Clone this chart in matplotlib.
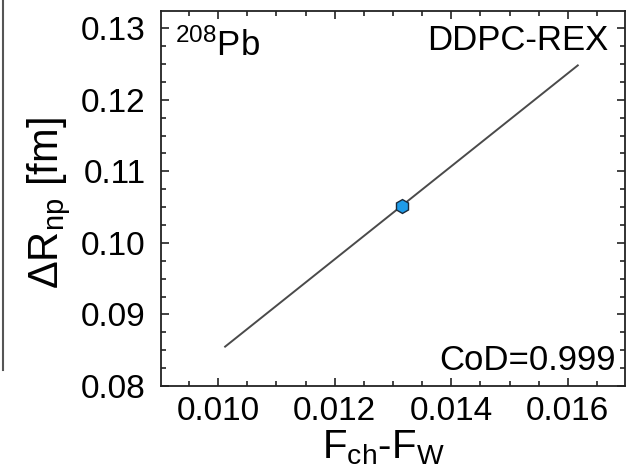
import matplotlib
matplotlib.use('Agg')
import matplotlib.pyplot as plt
from matplotlib.lines import Line2D
from matplotlib.ticker import MultipleLocator, FormatStrFormatter

plt.rcParams['font.family'] = ['Liberation Sans', 'DejaVu Sans']
plt.rcParams['mathtext.fontset'] = 'custom'
plt.rcParams['mathtext.rm'] = 'Liberation Sans'
plt.rcParams['mathtext.it'] = 'Liberation Sans'

# fit line end points and the single model point
fit_x = [0.01012, 0.01617]
fit_y = [0.0855, 0.1248]
point_x = [0.01315]
point_y = [0.1051]

model = 'DDPC-REX'
nucleus = r'$^{208}$Pb'
cod_text = 'CoD=0.999'

fig = plt.figure(figsize=(6.28, 4.73), dpi=100)
W, H = 628, 473
ax = fig.add_axes([161 / W, 1 - 386 / H, (625 - 161) / W, (386 - 11) / H])

ax.plot(fit_x, fit_y, color='#4a4a4a', lw=1.4, zorder=2)
ax.plot(point_x, point_y, marker='h', ms=10, mfc='#1e9be8', mec='#1a2a3a',
        mew=1.0, ls='none', zorder=3)

ax.set_xlim(0.00902, 0.01698)
ax.set_ylim(0.08, 0.1324)
ax.xaxis.set_major_locator(MultipleLocator(0.002))
ax.xaxis.set_minor_locator(MultipleLocator(0.0005))
ax.yaxis.set_major_locator(MultipleLocator(0.01))
ax.yaxis.set_minor_locator(MultipleLocator(0.0025))
ax.xaxis.set_major_formatter(FormatStrFormatter('%.3f'))
ax.yaxis.set_major_formatter(FormatStrFormatter('%.2f'))

ax.tick_params(which='both', direction='in', top=True, right=True,
               width=1.2, labelsize=24, color='#222222')
ax.tick_params(which='major', length=6)
ax.tick_params(axis='x', which='major', pad=7)
ax.tick_params(axis='y', which='major', pad=11)
ax.tick_params(which='minor', length=3.5)
for s in ax.spines.values():
    s.set_linewidth(1.3)
    s.set_color('#222222')

ax.set_ylabel(r'$\Delta$R$_{\rm np}$ [fm]', fontsize=30)
ax.yaxis.set_label_coords(-0.19, 0.487)
ax.set_xlabel(r'F$_{\rm ch}$-F$_{\rm W}$', fontsize=29)
ax.xaxis.set_label_coords(0.48, -0.112)

ax.text(0.03, 0.955, nucleus, transform=ax.transAxes, fontsize=25,
        ha='left', va='top')
ax.text(0.965, 0.965, model, transform=ax.transAxes, fontsize=25,
        ha='right', va='top')
ax.text(0.98, 0.025, cod_text, transform=ax.transAxes, fontsize=25,
        ha='right', va='bottom')

# edge of the neighbouring panel
fig.add_artist(Line2D([3 / W, 3 / W], [1, 1 - 370 / H], color='#555555',
                      lw=1.5, transform=fig.transFigure))

fig.savefig('out.png', dpi=100)
